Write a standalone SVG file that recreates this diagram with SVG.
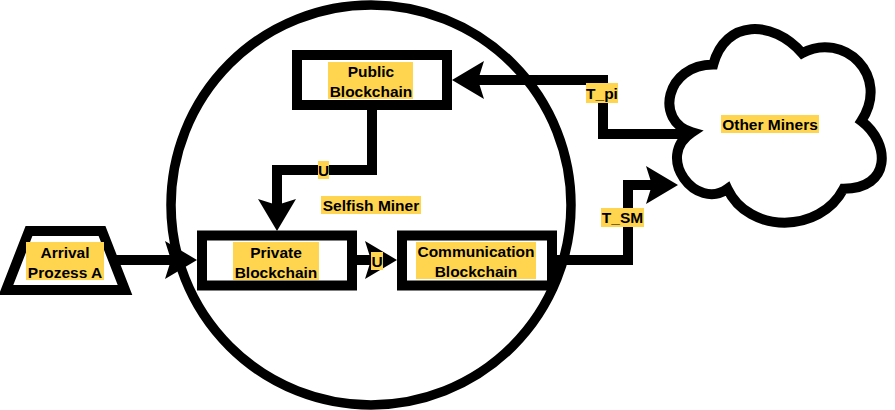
<svg xmlns="http://www.w3.org/2000/svg" width="895" height="410" viewBox="0 0 895 410">
<style>
.shape{fill:#fff;stroke:#000;stroke-width:10;stroke-linejoin:miter}
.edge{fill:none;stroke:#000;stroke-width:10;stroke-linejoin:miter;stroke-linecap:butt;marker-end:url(#arr)}
.plain{fill:none;stroke:#000;stroke-width:10;stroke-linejoin:miter}
.hl{fill:#FFD54F}
.lbl{font-family:"Liberation Sans",Arial,Helvetica,sans-serif;font-weight:bold;font-size:15.5px;text-anchor:middle;fill:#000}
</style>
<defs>
<marker id="arr" markerUnits="userSpaceOnUse" viewBox="0 -20 33 40" markerWidth="33" markerHeight="40" refX="6" refY="0" orient="auto" overflow="visible">
<path d="M32,0 L0,-19 L6,0 L0,19 Z" fill="#000"/>
</marker>
</defs>
<rect width="895" height="410" fill="#fff"/>
<g id="selfish-miner">
<circle cx="371" cy="205" r="200" fill="none" stroke="#000" stroke-width="9.5"/>
<rect class="hl" x="321" y="196" width="100" height="18"/>
<text class="lbl" x="371" y="210.5">Selfish Miner</text>
</g>
<g id="connectors">
<path class="edge" d="M113,260 L171,260"/>
<path class="edge" d="M372,110 L372,170 L277,170 L277,205"/>
<path class="edge" d="M357,260 L371,260"/>
<path class="edge" d="M557,260 L628,260 L628,185 L652,185"/>
<path class="edge" d="M692,134 L603,134 L603,80 L478,80"/>
<rect class="hl" x="318" y="161" width="11" height="18"/>
<text class="lbl" x="323.5" y="175.5">U</text>
<rect class="hl" x="371" y="252" width="12" height="18"/>
<text class="lbl" x="377" y="266.5">U</text>
<rect class="hl" x="601" y="208" width="43" height="19"/>
<text class="lbl" x="622.5" y="223">T_SM</text>
<rect class="hl" x="586" y="83" width="32" height="20"/>
<text class="lbl" x="602" y="98.5">T_pi</text>
</g>
<g id="arrival">
<polygon class="shape" points="29,231 102,231 125,290 6,290"/>
<rect class="hl" x="26" y="242" width="78" height="38"/>
<text class="lbl" x="65" y="257.5">Arrival</text>
<text class="lbl" x="65" y="277.5">Prozess A</text>
</g>
<g id="public-blockchain">
<rect class="shape" x="297" y="55" width="150" height="50"/>
<rect class="hl" x="328" y="62" width="85" height="37"/>
<text class="lbl" x="371" y="77">Public</text>
<text class="lbl" x="371" y="97">Blockchain</text>
</g>
<g id="private-blockchain">
<rect class="shape" x="202" y="235.5" width="150" height="50"/>
<rect class="hl" x="233" y="242" width="86" height="38"/>
<text class="lbl" x="276" y="257.5">Private</text>
<text class="lbl" x="276" y="277.5">Blockchain</text>
</g>
<g id="communication-blockchain">
<rect class="shape" x="402" y="235.5" width="150" height="50"/>
<rect class="hl" x="416" y="242" width="120" height="37"/>
<text class="lbl" x="476" y="257">Communication</text>
<text class="lbl" x="476" y="277">Blockchain</text>
</g>
<g id="other-miners">
<path class="shape" d="M713.25,64.5 C665.85,64.5 654,121 691.92,132.3 C654,157.16 696.66,211.4 727.47,188.8 C748.8,234 819.9,234 843.6,188.8 C891,188.8 891,143.6 861.38,121 C891,75.8 843.6,30.6 802.13,53.2 C772.5,19.3 725.1,19.3 713.25,64.5 Z"/>
<rect class="hl" x="721" y="115" width="98" height="18"/>
<text class="lbl" x="770" y="129.5">Other Miners</text>
</g>
</svg>
